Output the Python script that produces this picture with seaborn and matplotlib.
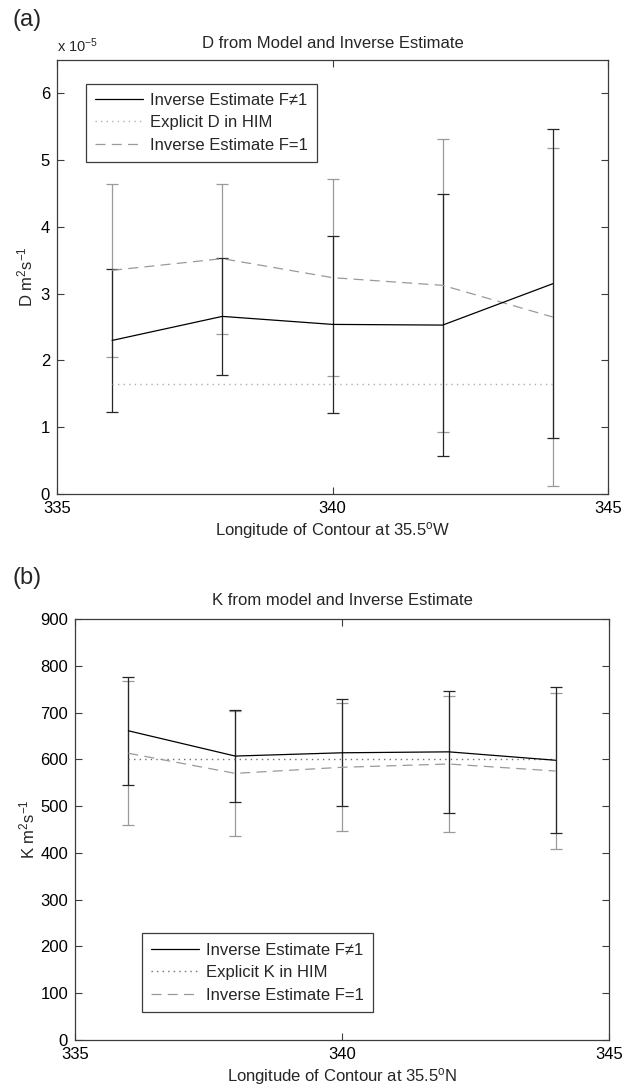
import numpy as np
import matplotlib
matplotlib.use("Agg")
import matplotlib.pyplot as plt
from matplotlib.ticker import FuncFormatter
import seaborn as sns

# Contour longitudes (degrees east)
lon = [336, 338, 340, 342, 344]

# Panel (a): diffusivity D (m^2 s^-1)
d_inv = [2.30e-5, 2.66e-5, 2.54e-5, 2.53e-5, 3.15e-5]
d_inv_err = [1.07e-5, 0.88e-5, 1.32e-5, 1.96e-5, 2.31e-5]
d_f1 = [3.35e-5, 3.525e-5, 3.24e-5, 3.125e-5, 2.65e-5]
d_f1_err = [1.295e-5, 1.125e-5, 1.48e-5, 2.19e-5, 2.525e-5]
d_him = [1.65e-5, 1.65e-5, 1.65e-5, 1.65e-5, 1.65e-5]

# Panel (b): diffusivity K (m^2 s^-1)
k_inv = [661, 607, 614, 616, 598]
k_inv_err = [115.5, 99, 114, 130.5, 156.5]
k_f1 = [613, 570, 583, 590, 575]
k_f1_err = [154, 133, 136.5, 146, 167.5]
k_him = [600, 600, 600, 600, 600]

x_ticks = [335, 340, 345]
d_ticks = [0, 1e-5, 2e-5, 3e-5, 4e-5, 5e-5, 6e-5]
k_ticks = [0, 100, 200, 300, 400, 500, 600, 700, 800, 900]

sns.set_theme(style="white")
plt.rcParams["font.family"] = ["Liberation Sans", "DejaVu Sans"]
plt.rcParams["mathtext.fontset"] = "custom"
plt.rcParams["mathtext.rm"] = "Liberation Sans"
plt.rcParams["mathtext.it"] = "Liberation Sans"

FS = 12
FRAME = "#3c3c3c"
DARK = "#262626"
GREY = "#9a9a9a"

fig = plt.figure(figsize=(6.32, 10.90), dpi=100)
ax_a = fig.add_axes([57 / 632, 1 - 494 / 1090, 551 / 632, 434 / 1090])
ax_b = fig.add_axes([75 / 632, 1 - 1040 / 1090, 534 / 632, 421 / 1090])


def style_axes(ax):
    for s in ax.spines.values():
        s.set_color(FRAME)
        s.set_linewidth(0.9)
    ax.tick_params(direction="in", length=5, width=0.8, color=FRAME,
                   top=True, right=True, bottom=True, left=True,
                   labelsize=FS, labelcolor="black", pad=5)
    ax.set_xlim(335, 345)
    ax.set_xticks(x_ticks)
    ax.grid(False)


def draw_panel(ax, inv, inv_err, f1, f1_err, him, him_label, dotted_color):
    # error bars: F=1 estimate in grey, F!=1 estimate in dark
    ax.errorbar(lon, f1, yerr=f1_err, fmt="none", ecolor=GREY,
                elinewidth=0.9, capsize=4, capthick=0.9, zorder=2)
    ax.errorbar(lon, inv, yerr=inv_err, fmt="none", ecolor=DARK,
                elinewidth=0.9, capsize=4, capthick=0.9, zorder=3)
    sns.lineplot(x=lon, y=inv, ax=ax, color="black", linewidth=0.9,
                 label="Inverse Estimate F\u22601", zorder=4)
    sns.lineplot(x=lon, y=him, ax=ax, color=dotted_color, linewidth=1.0,
                 linestyle=(0, (1, 3)), label=him_label, zorder=3)
    sns.lineplot(x=lon, y=f1, ax=ax, color=GREY, linewidth=0.9,
                 linestyle=(0, (8, 5)), label="Inverse Estimate F=1", zorder=3)


def add_legend(ax, anchor):
    leg = ax.legend(loc="lower left", bbox_to_anchor=anchor,
                    fontsize=FS, frameon=True, fancybox=False, framealpha=1,
                    edgecolor=FRAME, handlelength=2.9, labelspacing=0.45,
                    borderpad=0.55, handletextpad=0.4, borderaxespad=0)
    leg.get_frame().set_linewidth(0.9)


# ---- panel (a)
draw_panel(ax_a, d_inv, d_inv_err, d_f1, d_f1_err, d_him,
           "Explicit D in HIM", "#b0b0b0")
style_axes(ax_a)
ax_a.set_ylim(0, 6.5e-5)
ax_a.set_yticks(d_ticks)
ax_a.yaxis.set_major_formatter(FuncFormatter(lambda v, p: f"{v / 1e-5:.0f}"))
ax_a.text(0.0, 1.012, r"x 10$^{-5}$", transform=ax_a.transAxes,
          fontsize=10.5, ha="left", va="bottom")
ax_a.set_title("D from Model and Inverse Estimate", fontsize=FS, pad=9)
ax_a.set_xlabel(r"Longitude of Contour at 35.5$^{\rm o}$W", fontsize=FS, labelpad=3)
ax_a.set_ylabel(r"D m$^2$s$^{-1}$", fontsize=FS)
ax_a.yaxis.set_label_coords(-0.040, 0.5)
add_legend(ax_a, (0.052, 0.765))

# ---- panel (b)
draw_panel(ax_b, k_inv, k_inv_err, k_f1, k_f1_err, k_him,
           "Explicit K in HIM", "#707070")
style_axes(ax_b)
ax_b.set_ylim(0, 900)
ax_b.set_yticks(k_ticks)
ax_b.set_title("K from model and Inverse Estimate", fontsize=FS, pad=10)
ax_b.set_xlabel(r"Longitude of Contour at 35.5$^{\rm o}$N", fontsize=FS, labelpad=3)
ax_b.set_ylabel(r"K m$^2$s$^{-1}$", fontsize=FS)
ax_b.yaxis.set_label_coords(-0.071, 0.5)
add_legend(ax_b, (0.125, 0.067))

# panel letters
fig.text(12 / 632, 1 - 20 / 1090, "(a)", fontsize=17, ha="left", va="center")
fig.text(12 / 632, 1 - 578 / 1090, "(b)", fontsize=17, ha="left", va="center")

fig.savefig("out.png", dpi=100)
